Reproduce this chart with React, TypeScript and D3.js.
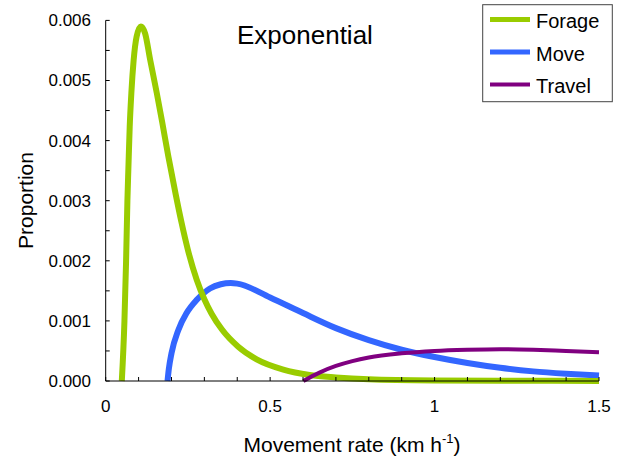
import React from "react";
import * as d3 from "d3";

const forageX = [0.049, 0.057, 0.062, 0.066, 0.069, 0.073, 0.078, 0.085, 0.094, 0.107, 0.12, 0.135, 0.155, 0.172, 0.19, 0.213, 0.23, 0.25, 0.277, 0.3, 0.322, 0.353, 0.403, 0.459, 0.54, 0.62, 0.7, 0.8, 1.0, 1.2, 1.5];
const forageY = [0, 0.001, 0.002, 0.003, 0.00354, 0.00423, 0.00479, 0.00534, 0.00573, 0.0059, 0.00578, 0.00535, 0.0048, 0.0043, 0.00375, 0.0031, 0.00265, 0.00218, 0.00168, 0.00136, 0.00112, 0.00086, 0.00057, 0.00036, 0.00019, 0.0001, 0.00006, 0.00003, 0.00001, 0.000005, 0];

const moveX = [0.188, 0.192, 0.2, 0.221, 0.246, 0.277, 0.317, 0.35, 0.38, 0.4, 0.5, 0.6, 0.7, 0.8, 0.9, 1.0, 1.1, 1.2, 1.3, 1.4, 1.5];
const moveY = [0, 0.0002, 0.00046, 0.00085, 0.00113, 0.00135, 0.00154, 0.00161, 0.00163, 0.00162, 0.00139, 0.00113, 0.00088, 0.00068, 0.00052, 0.0004, 0.0003, 0.00022, 0.00016, 0.00012, 0.00009];

const travelX = [0.601, 0.65, 0.7, 0.75, 0.8, 0.9, 1.0, 1.1, 1.2, 1.3, 1.4, 1.5];
const travelY = [0, 0.00014, 0.00025, 0.00033, 0.00039, 0.00046, 0.0005, 0.00052, 0.00053, 0.00052, 0.0005, 0.00048];

const seriesNames = ["Forage", "Move", "Travel"];
const seriesColors = ["#99CC00", "#3366FF", "#800080"];
const seriesWidths = [6, 6, 4];

const xTicks = [0, 0.5, 1, 1.5];
const xTickLabels = ["0", "0.5", "1", "1.5"];
const yTicks = [0, 0.001, 0.002, 0.003, 0.004, 0.005, 0.006];
const yTickLabels = ["0.000", "0.001", "0.002", "0.003", "0.004", "0.005", "0.006"];

const FONT = "'Liberation Sans', Arial, sans-serif";

export default function App() {
  const x = d3.scaleLinear().domain([0, 1.5]).range([105.7, 599]);
  const y = d3.scaleLinear().domain([0, 0.006]).range([381, 20.4]);

  const line = d3
    .line<[number, number]>()
    .x((d) => x(d[0]))
    .y((d) => y(d[1]))
    .curve(d3.curveMonotoneX);

  const data: [number, number][][] = [
    forageX.map((v, i) => [v, forageY[i]]),
    moveX.map((v, i) => [v, moveY[i]]),
    travelX.map((v, i) => [v, travelY[i]]),
  ];
  const drawOrder = [1, 0, 2];

  const xMinor = d3.range(0, 1.5001, 0.1);
  const yMinor = d3.range(0, 0.006001, 0.0005);

  const legendYs = [19.5, 52, 84.5];

  return (
    <svg
      width={623}
      height={464}
      style={{ position: "absolute", left: 0, top: 0, background: "#fff" }}
      fontFamily={FONT}
    >
      {drawOrder.map((i) => (
        <path
          key={seriesNames[i]}
          d={line(data[i]) || ""}
          fill="none"
          stroke={seriesColors[i]}
          strokeWidth={seriesWidths[i]}
          strokeLinejoin="round"
        />
      ))}

      {/* axes */}
      <line x1={x(0)} x2={x(0)} y1={y(0.006)} y2={y(0)} stroke="#000" strokeWidth={1} />
      <line x1={x(0)} x2={x(1.5)} y1={y(0)} y2={y(0)} stroke="#000" strokeWidth={1} />
      {yMinor.map((t, i) => (
        <line key={"yt" + i} x1={x(0)} x2={x(0) + 4} y1={y(t)} y2={y(t)} stroke="#000" strokeWidth={1} />
      ))}
      {xMinor.map((t, i) => (
        <line key={"xt" + i} x1={x(t)} x2={x(t)} y1={y(0)} y2={y(0) - 4} stroke="#000" strokeWidth={1} />
      ))}
      {yTicks.map((t, i) => (
        <text key={"yl" + i} x={91} y={y(t)} dy="0.35em" textAnchor="end" fontSize={17} fill="#000">
          {yTickLabels[i]}
        </text>
      ))}
      {xTicks.map((t, i) => (
        <text key={"xl" + i} x={x(t)} y={412} textAnchor="middle" fontSize={17} fill="#000">
          {xTickLabels[i]}
        </text>
      ))}

      <text x={237} y={44} fontSize={26} fill="#000">Exponential</text>

      <text x={352} y={452} textAnchor="middle" fontSize={21} fill="#000">
        Movement rate (km h
        <tspan fontSize={13} dy={-9}>-1</tspan>
        <tspan dy={9}>)</tspan>
      </text>

      <text
        transform="translate(33.3,200.5) rotate(-90)"
        textAnchor="middle"
        fontSize={21}
        fill="#000"
      >
        Proportion
      </text>

      {/* legend */}
      <rect x={482.7} y={4.7} width={129.6} height={97} fill="#fff" stroke="#444" strokeWidth={1} />
      {seriesNames.map((n, i) => (
        <g key={"lg" + n}>
          <line x1={490} x2={530} y1={legendYs[i]} y2={legendYs[i]} stroke={seriesColors[i]} strokeWidth={i === 2 ? 4 : 5} />
          <text x={536} y={legendYs[i] + 8.5} fontSize={20} fill="#000">
            {n}
          </text>
        </g>
      ))}
    </svg>
  );
}
